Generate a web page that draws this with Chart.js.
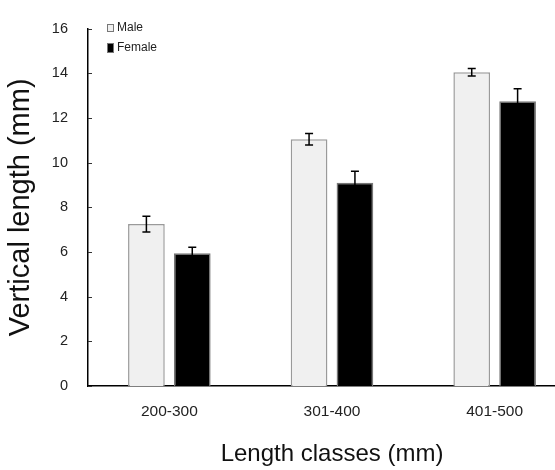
<!DOCTYPE html>
<html>
<head>
<meta charset="utf-8">
<script src="https://cdn.jsdelivr.net/npm/chart.js@4/dist/chart.umd.min.js"></script>
<style>
html,body{margin:0;padding:0;background:#fff;overflow:hidden;width:555px;height:470px;}
canvas{display:block;}
</style>
</head>
<body>
<canvas id="c" width="580" height="470"></canvas>
<script>
const categories = ['200-300', '301-400', '401-500'];
const maleValues = [7.25, 11.05, 14.05];
const maleErrors = [0.35, 0.26, 0.17];
const femaleValues = [5.95, 9.1, 12.75];
const femaleErrors = [0.26, 0.52, 0.56];
const yTicks = [0, 2, 4, 6, 8, 10, 12, 14, 16];

const SANS = "'Liberation Sans', Arial, sans-serif";

const errorBars = {
  id: 'errorBars',
  afterDatasetsDraw(chart) {
    const ctx = chart.ctx;
    const y = chart.scales.y;
    chart.data.datasets.forEach((ds, di) => {
      const meta = chart.getDatasetMeta(di);
      meta.data.forEach((bar, i) => {
        const v = ds.data[i], e = ds.errors[i];
        const yt = y.getPixelForValue(v + e);
        const yb = y.getPixelForValue(v - e);
        ctx.save();
        ctx.strokeStyle = '#000';
        ctx.lineWidth = 1.5;
        ctx.beginPath();
        ctx.moveTo(bar.x, yt); ctx.lineTo(bar.x, yb);
        ctx.moveTo(bar.x - 4, yt); ctx.lineTo(bar.x + 4, yt);
        ctx.moveTo(bar.x - 4, yb); ctx.lineTo(bar.x + 4, yb);
        ctx.stroke();
        ctx.restore();
      });
    });
  }
};

const innerTicks = {
  id: 'innerTicks',
  afterDraw(chart) {
    const ctx = chart.ctx;
    const y = chart.scales.y;
    const x0 = chart.chartArea.left;
    ctx.save();
    ctx.strokeStyle = '#333';
    ctx.lineWidth = 1;
    yTicks.forEach(t => {
      const py = Math.round(y.getPixelForValue(t)) + 0.5;
      ctx.beginPath();
      ctx.moveTo(x0, py); ctx.lineTo(x0 + 4, py);
      ctx.stroke();
    });
    ctx.restore();
  }
};

const insideLegend = {
  id: 'insideLegend',
  afterDraw(chart) {
    const ctx = chart.ctx;
    const positions = [{sy: 24, h: 8, ty: 28}, {sy: 43, h: 10, ty: 48}];
    ctx.save();
    chart.data.datasets.forEach((ds, i) => {
      const p = positions[i];
      ctx.fillStyle = ds.backgroundColor;
      ctx.fillRect(107, p.sy, 7, p.h);
      ctx.strokeStyle = '#777';
      ctx.lineWidth = 1;
      ctx.strokeRect(107.5, p.sy + 0.5, 6, p.h - 1);
      ctx.fillStyle = '#222';
      ctx.font = "12px " + SANS;
      ctx.textBaseline = 'middle';
      ctx.textAlign = 'left';
      ctx.fillText(ds.label, 117, p.ty);
    });
    ctx.restore();
  }
};

new Chart(document.getElementById('c'), {
  type: 'bar',
  data: {
    labels: categories,
    datasets: [
      {label: 'Male', data: maleValues, errors: maleErrors, backgroundColor: '#f0f0f0', borderColor: '#9a9a9a', borderWidth: 1.5},
      {label: 'Female', data: femaleValues, errors: femaleErrors, backgroundColor: '#000000', borderColor: '#777777', borderWidth: 1.5}
    ]
  },
  plugins: [errorBars, innerTicks, insideLegend],
  options: {
    responsive: false,
    animation: false,
    layout: {padding: {top: 15, right: 4, left: 0, bottom: 0}},
    categoryPercentage: 0.564,
    barPercentage: 0.80,
    plugins: {legend: {display: false}, tooltip: {enabled: false}},
    scales: {
      x: {
        grid: {display: false, drawTicks: false},
        border: {display: true, color: '#000', width: 1.5},
        ticks: {color: '#222', font: {family: SANS, size: 15.5}, padding: 16},
        title: {display: true, text: 'Length classes (mm)', color: '#111', font: {family: SANS, size: 24}, padding: {top: 0, bottom: 1}},
        afterFit(scale) { scale.height = 84; }
      },
      y: {
        min: 0, max: 16,
        afterBuildTicks(scale) { scale.ticks = yTicks.map(v => ({value: v})); },
        grid: {display: false, drawTicks: false},
        border: {display: true, color: '#000', width: 1.5},
        ticks: {color: '#222', font: {family: SANS, size: 14.5}, padding: 20},
        title: {display: true, text: 'Vertical length (mm)', color: '#111', font: {family: SANS, size: 29}, padding: {top: 4, bottom: 0}},
        afterFit(scale) { scale.width = 88; }
      }
    }
  }
});
</script>
</body>
</html>
